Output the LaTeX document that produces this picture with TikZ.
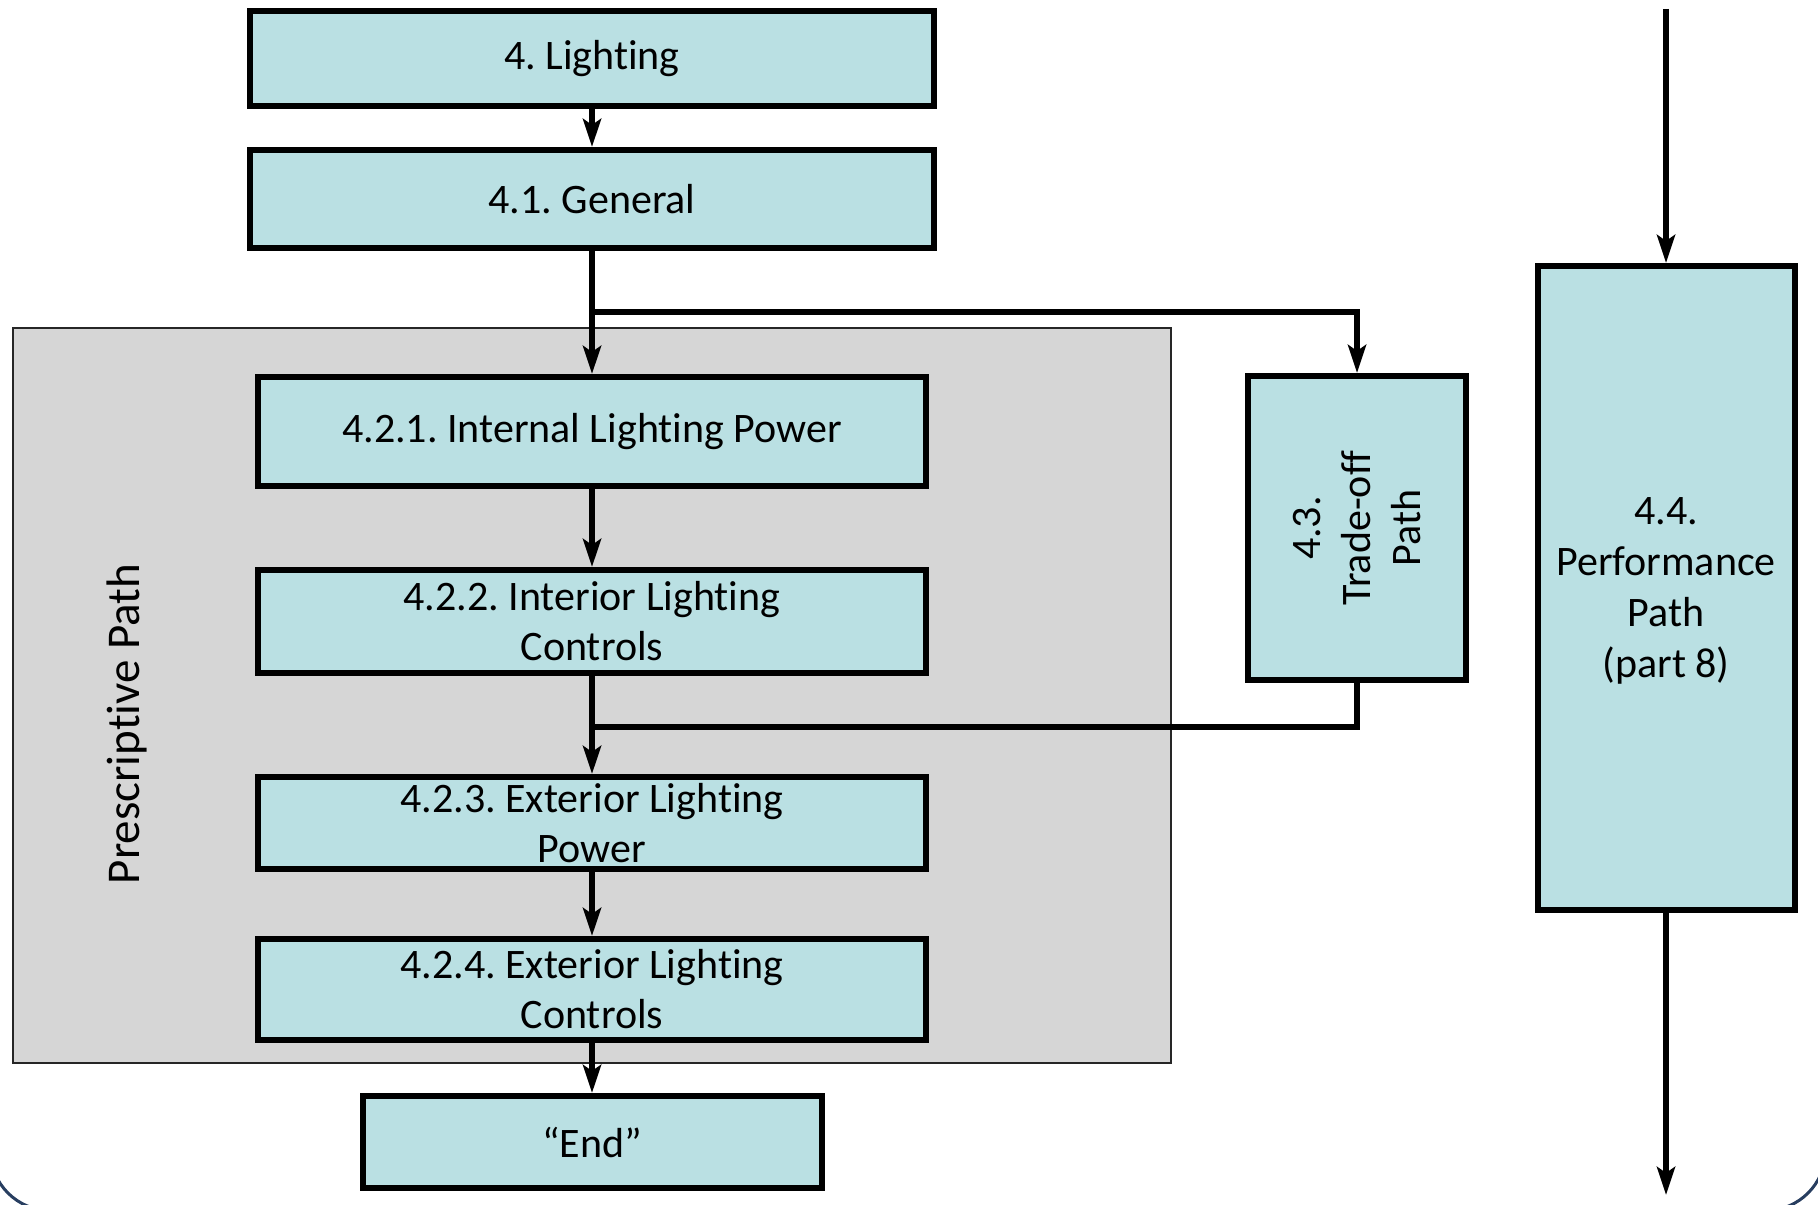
\documentclass[tikz,border=0pt]{standalone}
\usepackage{fontspec}
\setmainfont{Carlito}[RawFeature={-liga;-clig;-calt;-rlig;-dlig}]
\usetikzlibrary{arrows.meta}
\definecolor{boxfill}{RGB}{186,224,227}
\definecolor{hatch}{RGB}{214,214,214}
\definecolor{framec}{RGB}{40,62,96}
\newcommand\nolig{\kern0pt{}}
\frenchspacing
\begin{document}
\begin{tikzpicture}[x=0.5pt,y=-0.5pt,
  box/.style={draw=black,line width=3pt,fill=boxfill,inner sep=0pt,align=center,
    font=\fontsize{21pt}{25pt}\selectfont},
  conn/.style={line width=3pt,-{Stealth[length=14pt,width=9pt,inset=3pt]}},
  plain/.style={line width=3pt}]
\useasboundingbox (0,0) rectangle (1818,1204);
\fill[white] (0,0) rectangle (1818,1204);
\begin{scope}
\clip (0,0) rectangle (1818,1204);
\draw[framec,line width=1.5pt,rounded corners=30pt] (-9.6,-200) rectangle (1825.6,1210.6);
\end{scope}
% prescriptive region
\node[draw=black!85,line width=1pt,fill=hatch,minimum width=579pt,minimum height=367.5pt,inner sep=0pt] (region) at (592,695.5) {};
\node[rotate=90,font=\fontsize{23.5pt}{28pt}\selectfont] (ptxt) at (127,724) {Prescript\nolig ive Path};
% boxes
\node[box,minimum width=342pt,minimum height=47.5pt] (L4) at (592,58.5) {4. Light\nolig ing};
\node[box,minimum width=342pt,minimum height=49pt] (G) at (592,199) {4.1. General};
\node[box,minimum width=334pt,minimum height=54.5pt] (I1) at (592,431.5) {4.2.1. Internal Light\nolig ing Power};
\node[box,minimum width=334pt,minimum height=51.5pt] (I2) at (592,621.5) {4.2.2. Interior Light\nolig ing\\Controls};
\node[box,minimum width=334pt,minimum height=46pt] (I3) at (592,823) {4.2.3. Exterior Light\nolig ing\\Power};
\node[box,minimum width=334pt,minimum height=50.5pt] (I4) at (592,989.5) {4.2.4. Exterior Light\nolig ing\\Controls};
\node[box,minimum width=229.5pt,minimum height=46pt] (End) at (592,1142) {“End”};
\node[box,minimum width=109pt,minimum height=152pt] (T43) at (1357,528) {};
\node[rotate=90,align=center,font=\fontsize{21pt}{25pt}\selectfont] (T43txt) at (T43.center) {4.3.\\Trade-of\nolig f\\Path};
\node[box,minimum width=128.5pt,minimum height=322pt] (P44) at (1666,588) {};
\node[align=center,font=\fontsize{21pt}{25.6pt}\selectfont] (P44txt) at (1666,591) {4.4.\\Performance\\Path\\(part 8)};
% connector points
\coordinate (br) at (592,312);
\coordinate (jn) at (592,727);
\coordinate (ptop) at (1666,9);
\coordinate (pbot) at (1666,1195);
% connectors
\draw[conn] (L4) -- (G);
\draw[conn] (G) -- (I1);
\draw[conn] (br) -| (T43.north);
\draw[conn] (I1) -- (I2);
\draw[conn] (I2) -- (I3);
\draw[plain] (T43.south) |- (jn);
\draw[conn] (I3) -- (I4);
\draw[conn] (I4) -- (End);
\draw[conn] (ptop) -- (P44);
\draw[conn] (P44) -- (pbot);
\end{tikzpicture}
\end{document}
